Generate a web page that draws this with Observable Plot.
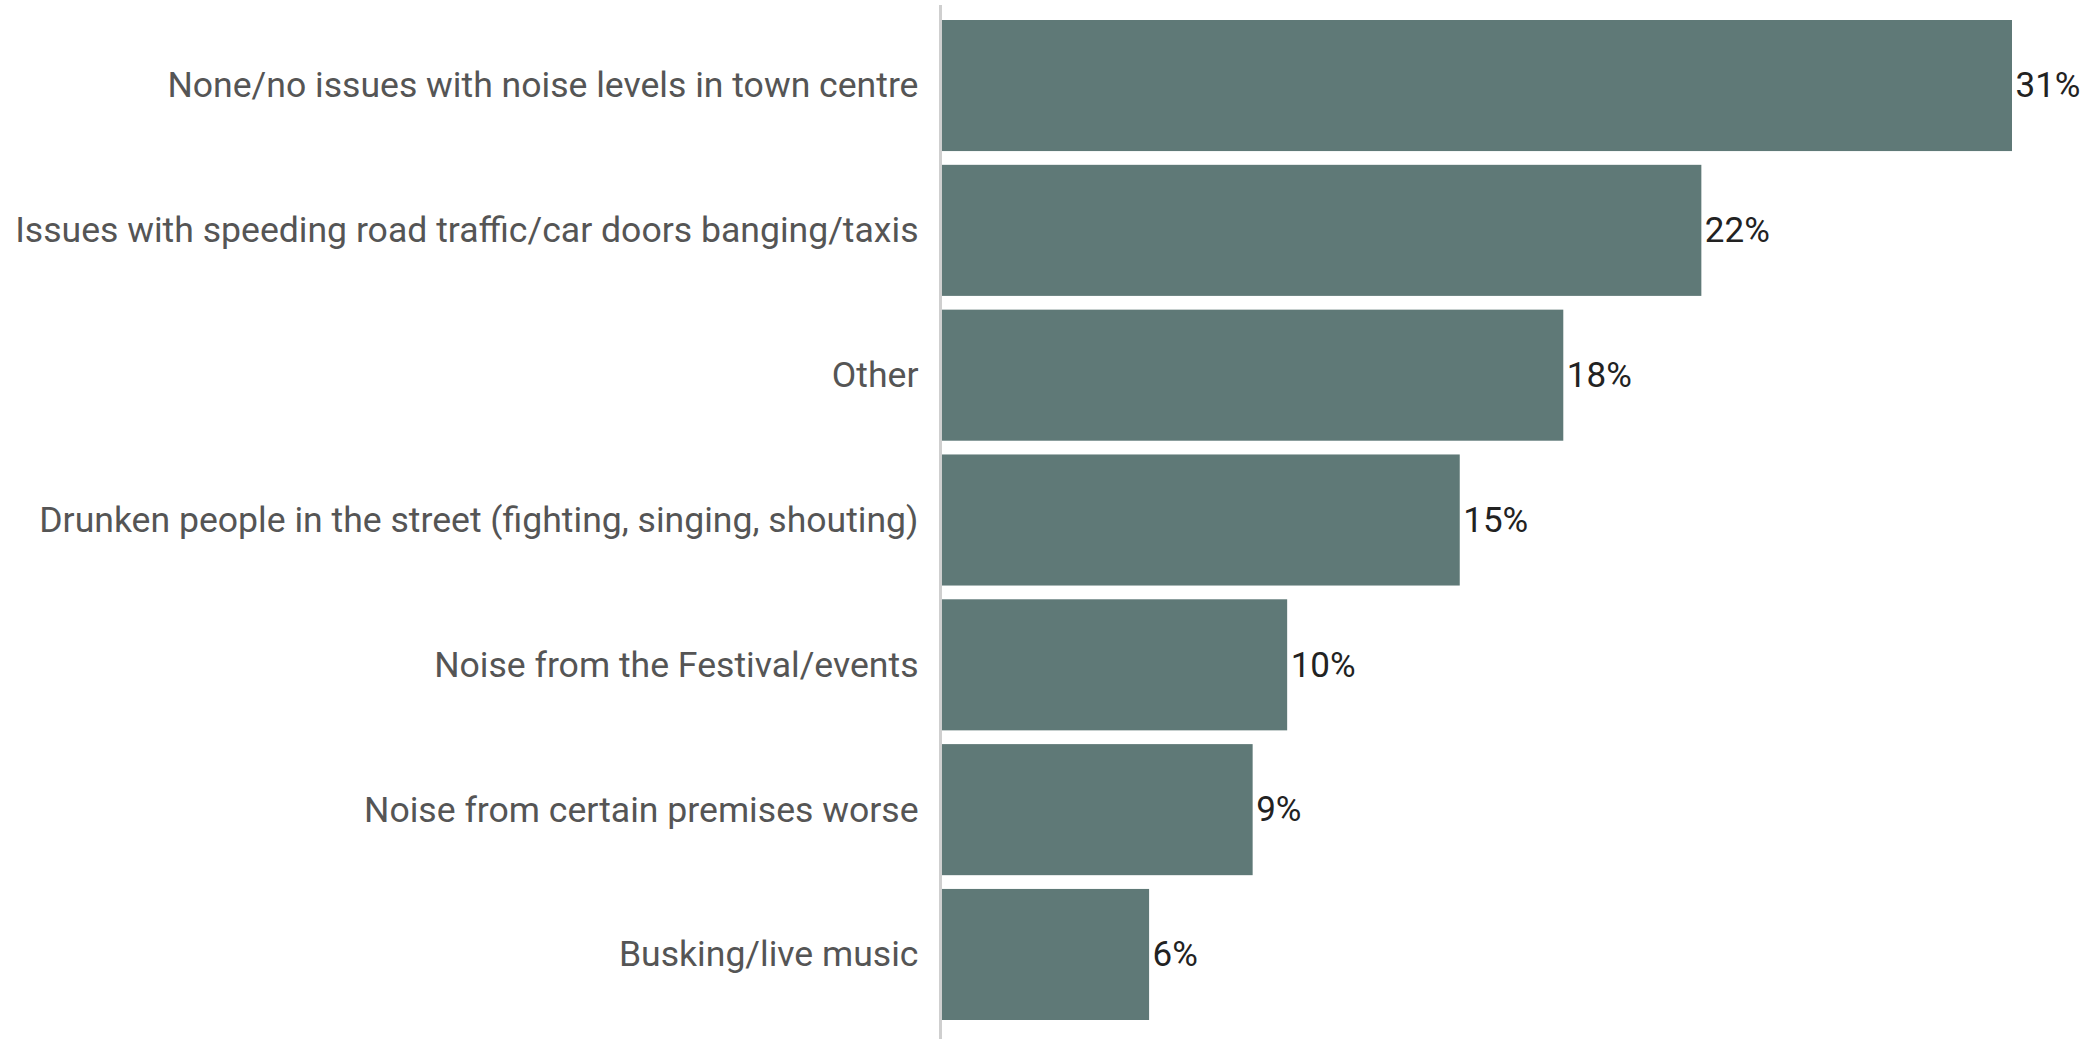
<!DOCTYPE html>
<html>
<head>
<meta charset="utf-8">
<script src="https://cdn.jsdelivr.net/npm/d3@7"></script>
<script src="https://cdn.jsdelivr.net/npm/@observablehq/plot@0.6"></script>
<style>
  html, body { margin: 0; padding: 0; background: #fff; }
  #chart svg { display: block; }
</style>
</head>
<body>
<div id="chart"></div>
<script>
const categories = [
  "None/no issues with noise levels in town centre",
  "Issues with speeding road traffic/car doors banging/taxis",
  "Other",
  "Drunken people in the street (fighting, singing, shouting)",
  "Noise from the Festival/events",
  "Noise from certain premises worse",
  "Busking/live music"
];
const values = [31, 22, 18, 15, 10, 9, 6];

const data = categories.map((c, i) => ({category: c, value: values[i]}));

const chart = Plot.plot({
  width: 2087,
  height: 1039,
  marginTop: 20,
  marginBottom: 19,
  marginLeft: 942,
  marginRight: 75,
  style: {fontFamily: "Roboto, sans-serif", fontSize: "35.6px", background: "#fff"},
  x: {domain: [0, 31], axis: null},
  y: {domain: categories, paddingInner: 0.095, paddingOuter: 0, round: false, label: null, tickSize: 0, tickPadding: 24},
  marks: [
    Plot.barX(data, {x: "value", y: "category", fill: "#5f7977"}),
    Plot.ruleX([0], {dx: -2, stroke: "#cfcfcf", strokeWidth: 3, insetTop: -15, insetBottom: -19}),
    Plot.text(data, {x: "value", y: "category", text: d => d.value + "%", textAnchor: "start", dx: 3, fill: "#222", fontSize: 35}),
    Plot.axisY({tickSize: 0, tickPadding: 24, label: null, fill: "#555", fontSize: 35.6})
  ]
});
document.getElementById("chart").appendChild(chart);
</script>
</body>
</html>
